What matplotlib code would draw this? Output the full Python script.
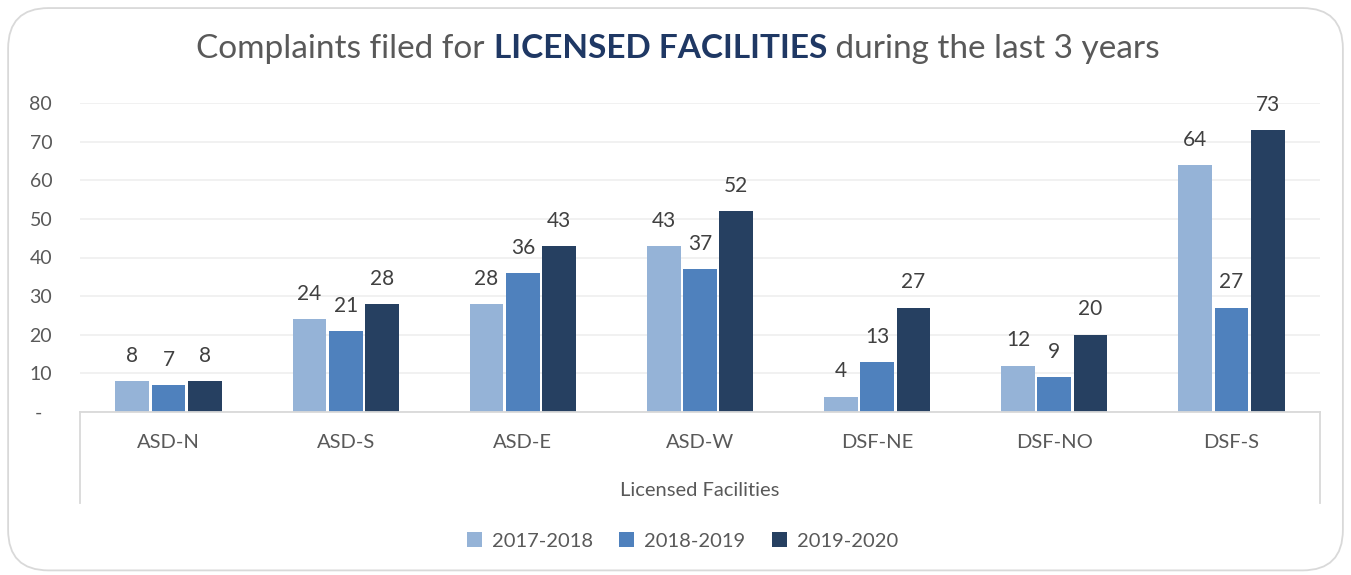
import numpy as np
import matplotlib.pyplot as plt
from matplotlib.patches import FancyBboxPatch
from matplotlib.lines import Line2D

categories = ["ASD-N", "ASD-S", "ASD-E", "ASD-W", "DSF-NE", "DSF-NO", "DSF-S"]
years = ["2017-2018", "2018-2019", "2019-2020"]
values_2017 = [8, 24, 28, 43, 4, 12, 64]
values_2018 = [7, 21, 36, 37, 13, 9, 27]
values_2019 = [8, 28, 43, 52, 27, 20, 73]
y_ticks = [0, 10, 20, 30, 40, 50, 60, 70, 80]

colors = ["#95B3D7", "#4F81BD", "#264061"]
text_grey = "#595959"
plt.rcParams['font.family'] = ['Lato', 'DejaVu Sans']

fig = plt.figure(figsize=(13.51, 5.75), dpi=100)
fig.patch.set_facecolor("white")

# rounded outer frame
frame = FancyBboxPatch((0.006, 0.008), 0.988, 0.978, boxstyle="round,pad=0,rounding_size=0.03",
                       transform=fig.transFigure, fill=False, edgecolor="#D9D9D9", linewidth=1.3,
                       mutation_aspect=1351 / 575)
fig.patches.append(frame)

ax = fig.add_axes([80 / 1351, (575 - 412) / 575, (1320 - 80) / 1351, 309 / 575])

x = np.arange(len(categories))
width = 0.19
step = 0.205
series = [values_2017, values_2018, values_2019]
for i, (vals, col, lab) in enumerate(zip(series, colors, years)):
    bars = ax.bar(x + (i - 1) * step, vals, width, color=col, label=lab, zorder=3)
    for b, v in zip(bars, vals):
        ax.annotate(str(v), (b.get_x() + b.get_width() / 2, v), xytext=(0, 11),
                    textcoords="offset points", ha="center", va="bottom",
                    fontsize=15, color="#404040")

ax.set_xlim(-0.5, len(categories) - 0.5)
ax.set_ylim(0, 80)
ax.set_yticks(y_ticks)
ax.set_yticklabels(["-  " if t == 0 else str(t) for t in y_ticks], fontsize=14, color=text_grey)
ax.tick_params(axis="y", length=0, pad=20)
ax.tick_params(axis="x", length=0)
ax.set_xticks([])
ax.grid(axis="y", color="#EFEFEF", linewidth=1.2, zorder=0)
for s in ax.spines.values():
    s.set_visible(False)

# category axis box
box_bottom = -0.295
line_kw = dict(color="#D9D9D9", linewidth=1.3, transform=ax.transAxes, clip_on=False)
ax.add_line(Line2D([0, 1], [0, 0], zorder=4, **line_kw))
ax.add_line(Line2D([0, 0], [0, box_bottom], **line_kw))
ax.add_line(Line2D([1, 1], [0, box_bottom], **line_kw))
for xi, cat in zip(x, categories):
    ax.text(xi, -0.10, cat, transform=ax.get_xaxis_transform(), ha="center", va="center",
            fontsize=14.5, color=text_grey)
ax.text(0.5, -0.253, "Licensed Facilities", transform=ax.transAxes, ha="center", va="center",
        fontsize=14.5, color=text_grey)

fig.legend(loc="center", bbox_to_anchor=(0.505, 0.059), ncol=3, frameon=False,
           fontsize=14.5, handlelength=0.75, handleheight=0.75, columnspacing=1.3,
           handletextpad=0.5, labelcolor=text_grey)

# title with a bold middle part
parts = [("Complaints filed for ", "normal", text_grey),
         ("LICENSED FACILITIES", "bold", "#1F3864"),
         (" during the last 3 years", "normal", text_grey)]
fig.canvas.draw()
renderer = fig.canvas.get_renderer()
texts = []
for s, w, c in parts:
    t = fig.text(0, 0.915, s, fontsize=24, fontweight=w, color=c, va="center", ha="left")
    texts.append(t)
widths = [t.get_window_extent(renderer).width for t in texts]
total = sum(widths)
x0 = (678 - total / 2)
for t, w in zip(texts, widths):
    t.set_x(x0 / 1351)
    x0 += w

fig.savefig("out.png", dpi=100)
